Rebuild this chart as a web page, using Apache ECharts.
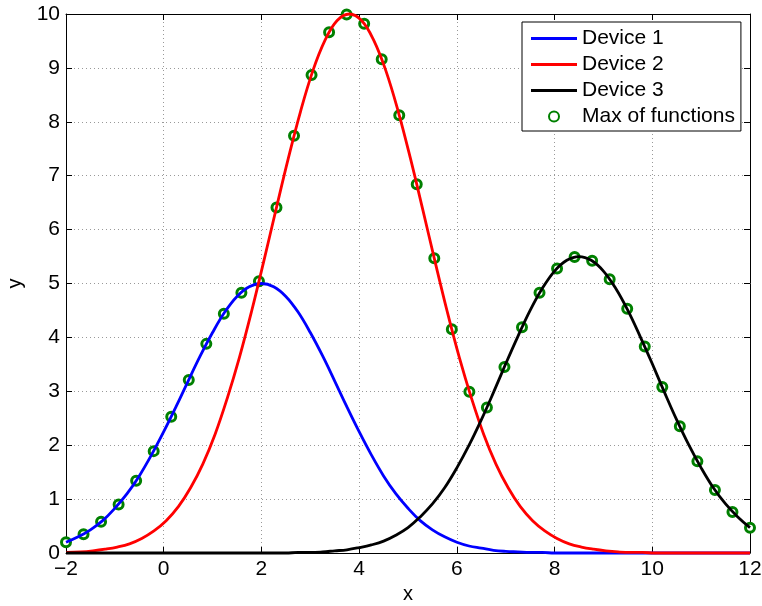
<!DOCTYPE html>
<html>
<head>
<meta charset="utf-8">
<title>Device response curves</title>
<script src="https://cdn.jsdelivr.net/npm/echarts@6/dist/echarts.min.js"></script>
<style>
  html, body { margin: 0; padding: 0; background: #fff; }
  #chart { width: 762px; height: 606px; }
</style>
</head>
<body>
<div id="chart"></div>
<script>
// Shared sample grid for Device 1 and Device 3
const xGrid = [-2, -1.75, -1.5, -1.25, -1, -0.75, -0.5, -0.25, 0, 0.25, 0.5, 0.75, 1, 1.25, 1.5, 1.75,
  2, 2.25, 2.5, 2.75, 3, 3.25, 3.5, 3.75, 4, 4.25, 4.5, 4.75, 5, 5.25, 5.5, 5.75,
  6, 6.25, 6.5, 6.75, 7, 7.25, 7.5, 7.75, 8, 8.25, 8.5, 8.75, 9, 9.25, 9.5, 9.75,
  10, 10.25, 10.5, 10.75, 11, 11.25, 11.5, 11.75, 12];

const device1 = [0.20, 0.30, 0.43, 0.60, 0.83, 1.10, 1.43, 1.82, 2.25, 2.71,
  3.19, 3.66, 4.09, 4.47, 4.76, 4.94, 5.00, 4.94, 4.76, 4.47,
  4.09, 3.66, 3.19, 2.71, 2.25, 1.82, 1.43, 1.10, 0.83, 0.60,
  0.43, 0.30, 0.20, 0.13, 0.09, 0.05, 0.03, 0.02, 0.01, 0.01,
  0, 0, 0, 0, 0, 0, 0, 0, 0, 0, 0, 0, 0, 0, 0, 0, 0];

const device3 = [0, 0, 0, 0, 0, 0, 0, 0, 0, 0, 0, 0, 0, 0, 0, 0, 0, 0, 0,
  0.01, 0.01, 0.02, 0.04, 0.06, 0.10, 0.15, 0.22, 0.33, 0.47, 0.67,
  0.91, 1.21, 1.58, 2.00, 2.47, 2.98, 3.51, 4.02, 4.50, 4.91,
  5.23, 5.43, 5.50, 5.43, 5.23, 4.91, 4.50, 4.02, 3.51, 2.98,
  2.47, 2.00, 1.58, 1.21, 0.91, 0.67, 0.47];

// Device 2 is sampled on its own grid around its peak
const device2X = [-2, -1.7, -1.45, -1.2, -0.95, -0.7, -0.45, -0.2, 0.05, 0.3,
  0.55, 0.8, 1.05, 1.3, 1.55, 1.8, 2.05, 2.3, 2.55, 2.8,
  3.05, 3.3, 3.55, 3.8, 4.05, 4.3, 4.55, 4.8, 5.05, 5.3,
  5.55, 5.8, 6.05, 6.3, 6.55, 6.8, 7.05, 7.3, 7.55, 7.8,
  8.05, 8.3, 8.55, 8.8, 9.05, 9.3, 9.55, 9.8, 10.05, 12];
const device2 = [0.01, 0.02, 0.04, 0.07, 0.11, 0.17, 0.27, 0.41, 0.60, 0.86,
  1.21, 1.65, 2.20, 2.87, 3.63, 4.49, 5.42, 6.38, 7.32, 8.19,
  8.94, 9.51, 9.88, 10.00, 9.88, 9.51, 8.94, 8.19, 7.32, 6.38,
  5.42, 4.49, 3.63, 2.87, 2.20, 1.65, 1.21, 0.86, 0.60, 0.41,
  0.27, 0.17, 0.11, 0.07, 0.04, 0.02, 0.01, 0.01, 0, 0];

// Upper envelope sampled at 40 evenly spaced points
const maxX = [-2, -1.641, -1.282, -0.923, -0.564, -0.205, 0.154, 0.513, 0.872, 1.231,
  1.590, 1.949, 2.308, 2.667, 3.026, 3.385, 3.744, 4.103, 4.462, 4.821,
  5.179, 5.538, 5.897, 6.256, 6.615, 6.974, 7.333, 7.692, 8.051, 8.410,
  8.769, 9.128, 9.487, 9.846, 10.205, 10.564, 10.923, 11.282, 11.641, 12];
const maxY = [0.20, 0.35, 0.58, 0.90, 1.34, 1.89, 2.53, 3.21, 3.88, 4.44,
  4.83, 5.04, 6.41, 7.74, 8.87, 9.66, 9.99, 9.82, 9.16, 8.12,
  6.84, 5.47, 4.15, 2.99, 2.70, 3.45, 4.19, 4.83, 5.28, 5.49,
  5.42, 5.08, 4.53, 3.83, 3.08, 2.35, 1.70, 1.17, 0.76, 0.47];

const seriesNames = ['Device 1', 'Device 2', 'Device 3', 'Max of functions'];
const xTicks = { min: -2, max: 12, interval: 2 };
const yTicks = { min: 0, max: 10, interval: 1 };

const FONT = '"Liberation Sans", Arial, Helvetica, sans-serif';
const LINE_W = 2.8;
const zip = (xs, ys) => xs.map((x, i) => [x, ys[i]]);
const minusFmt = v => (v < 0 ? '\u2212' + Math.abs(v) : String(v));

const gridLine = { show: true, lineStyle: { color: '#999', width: 1, type: [1, 3] } };
const blackLine = { show: true, onZero: false, lineStyle: { color: '#000', width: 1 } };
const innerTick = { show: true, inside: true, length: 6, lineStyle: { color: '#000', width: 1 } };
// flat bar used as the legend swatch of each curve
const lineIcon = 'path://M0,0 L46,0 L46,' + LINE_W + ' L0,' + LINE_W + ' Z';

function lineSeries(name, data, color) {
  return {
    name, type: 'line', data, smooth: 0.4,
    symbol: 'none', showSymbol: false, clip: false,
    lineStyle: { color, width: LINE_W }, itemStyle: { color },
    emphasis: { disabled: true }
  };
}

const chart = echarts.init(document.getElementById('chart'), null, { renderer: 'canvas' });
chart.setOption({
  animation: false,
  backgroundColor: '#fff',
  grid: { left: 66, right: 12, top: 14, bottom: 53, containLabel: false, outerBoundsMode: 'none' },
  xAxis: [
    {
      type: 'value', position: 'bottom', ...xTicks,
      axisLine: blackLine, axisTick: innerTick, splitLine: gridLine,
      axisLabel: { fontSize: 21, fontFamily: FONT, color: '#000', margin: 6, formatter: minusFmt },
      name: 'x', nameLocation: 'middle', nameGap: 31,
      nameTextStyle: { fontSize: 20, fontFamily: FONT, color: '#000' }
    },
    {
      type: 'value', position: 'top', ...xTicks,
      axisLine: blackLine, axisTick: innerTick, splitLine: { show: false },
      axisLabel: { show: false }
    }
  ],
  yAxis: [
    {
      type: 'value', position: 'left', ...yTicks,
      axisLine: blackLine, axisTick: innerTick, splitLine: gridLine,
      axisLabel: { fontSize: 21, fontFamily: FONT, color: '#000', margin: 6 },
      name: 'y', nameLocation: 'middle', nameGap: 29, nameRotate: 90,
      nameTextStyle: { fontSize: 20, fontFamily: FONT, color: '#000' }
    },
    {
      type: 'value', position: 'right', ...yTicks,
      axisLine: blackLine, axisTick: innerTick, splitLine: { show: false },
      axisLabel: { show: false }
    }
  ],
  legend: {
    orient: 'vertical', left: 522, top: 22,
    padding: [6, 6, 4, 9], itemGap: 5, itemWidth: 46, itemHeight: 10,
    backgroundColor: '#fff', borderColor: '#000', borderWidth: 1, borderRadius: 0,
    textStyle: { fontSize: 21, fontFamily: FONT, color: '#000' },
    selectedMode: false,
    data: [
      { name: seriesNames[0], icon: lineIcon },
      { name: seriesNames[1], icon: lineIcon },
      { name: seriesNames[2], icon: lineIcon },
      { name: seriesNames[3] }
    ]
  },
  series: [
    lineSeries(seriesNames[0], zip(xGrid, device1), '#0000ff'),
    lineSeries(seriesNames[1], zip(device2X, device2), '#ff0000'),
    lineSeries(seriesNames[2], zip(xGrid, device3), '#000000'),
    {
      name: seriesNames[3], type: 'scatter', data: zip(maxX, maxY), clip: false,
      symbol: 'circle', symbolSize: 9,
      itemStyle: { color: '#ffffff', borderColor: '#008000', borderWidth: 3, opacity: 1 },
      emphasis: { disabled: true }
    }
  ]
});
</script>
</body>
</html>
